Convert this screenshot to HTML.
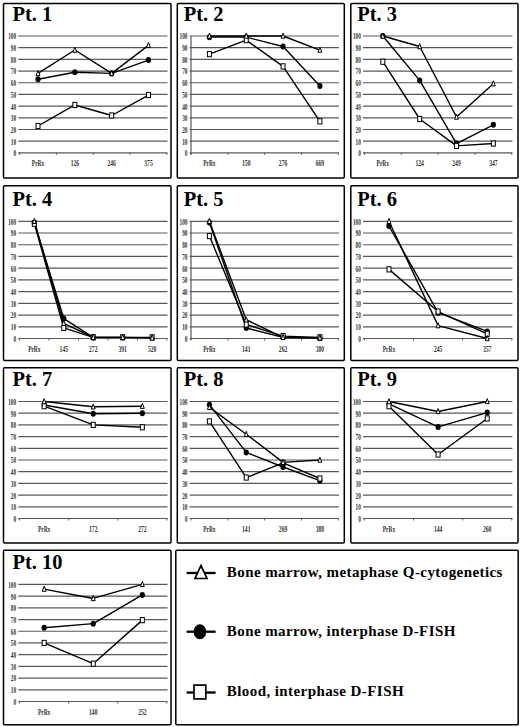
<!DOCTYPE html>
<html><head><meta charset="utf-8"><style>
html,body{margin:0;padding:0;background:#fff;}
svg{display:block;}
.t{font-family:"Liberation Serif",serif;font-weight:bold;font-size:22px;fill:#000;}
.yl{font-family:"Liberation Serif",serif;font-weight:bold;font-size:7.6px;fill:#333;text-anchor:end;}
.xl{font-family:"Liberation Serif",serif;font-weight:bold;font-size:8.2px;fill:#333;text-anchor:middle;}
.lg{font-family:"Liberation Serif",serif;font-weight:bold;font-size:15px;fill:#000;letter-spacing:0.42px;}
</style></head><body>
<svg width="520" height="727" viewBox="0 0 520 727">
<rect width="520" height="727" fill="#fff"/>
<rect x="3.5" y="3.5" width="167.50" height="174.50" rx="1" fill="none" stroke="#000" stroke-width="1.5"/>
<text transform="translate(12.40,20.8) scale(0.93,1)" class="t">Pt. 1</text>
<line x1="18.2" y1="152.90" x2="167.5" y2="152.90" stroke="#585858" stroke-width="1.2"/>
<text x="16.10" y="156.30" class="yl" textLength="2.65" lengthAdjust="spacingAndGlyphs">0</text>
<line x1="18.2" y1="141.21" x2="167.5" y2="141.21" stroke="#585858" stroke-width="1.2"/>
<text x="16.10" y="144.61" class="yl" textLength="5.30" lengthAdjust="spacingAndGlyphs">10</text>
<line x1="18.2" y1="129.52" x2="167.5" y2="129.52" stroke="#585858" stroke-width="1.2"/>
<text x="16.10" y="132.92" class="yl" textLength="5.30" lengthAdjust="spacingAndGlyphs">20</text>
<line x1="18.2" y1="117.83" x2="167.5" y2="117.83" stroke="#585858" stroke-width="1.2"/>
<text x="16.10" y="121.23" class="yl" textLength="5.30" lengthAdjust="spacingAndGlyphs">30</text>
<line x1="18.2" y1="106.14" x2="167.5" y2="106.14" stroke="#585858" stroke-width="1.2"/>
<text x="16.10" y="109.54" class="yl" textLength="5.30" lengthAdjust="spacingAndGlyphs">40</text>
<line x1="18.2" y1="94.45" x2="167.5" y2="94.45" stroke="#585858" stroke-width="1.2"/>
<text x="16.10" y="97.85" class="yl" textLength="5.30" lengthAdjust="spacingAndGlyphs">50</text>
<line x1="18.2" y1="82.76" x2="167.5" y2="82.76" stroke="#585858" stroke-width="1.2"/>
<text x="16.10" y="86.16" class="yl" textLength="5.30" lengthAdjust="spacingAndGlyphs">60</text>
<line x1="18.2" y1="71.07" x2="167.5" y2="71.07" stroke="#585858" stroke-width="1.2"/>
<text x="16.10" y="74.47" class="yl" textLength="5.30" lengthAdjust="spacingAndGlyphs">70</text>
<line x1="18.2" y1="59.38" x2="167.5" y2="59.38" stroke="#585858" stroke-width="1.2"/>
<text x="16.10" y="62.78" class="yl" textLength="5.30" lengthAdjust="spacingAndGlyphs">80</text>
<line x1="18.2" y1="47.69" x2="167.5" y2="47.69" stroke="#585858" stroke-width="1.2"/>
<text x="16.10" y="51.09" class="yl" textLength="5.30" lengthAdjust="spacingAndGlyphs">90</text>
<line x1="18.2" y1="36.00" x2="167.5" y2="36.00" stroke="#585858" stroke-width="1.2"/>
<text x="16.10" y="39.40" class="yl" textLength="7.95" lengthAdjust="spacingAndGlyphs">100</text>
<line x1="19.60" y1="152.90" x2="19.60" y2="154.90" stroke="#585858" stroke-width="1"/>
<line x1="56.42" y1="152.90" x2="56.42" y2="154.90" stroke="#585858" stroke-width="1"/>
<line x1="93.25" y1="152.90" x2="93.25" y2="154.90" stroke="#585858" stroke-width="1"/>
<line x1="130.08" y1="152.90" x2="130.08" y2="154.90" stroke="#585858" stroke-width="1"/>
<line x1="166.90" y1="152.90" x2="166.90" y2="154.90" stroke="#585858" stroke-width="1"/>
<text x="38.01" y="166.40" class="xl" textLength="12.40" lengthAdjust="spacingAndGlyphs">PrRx</text>
<text x="74.84" y="166.40" class="xl" textLength="8.40" lengthAdjust="spacingAndGlyphs">126</text>
<text x="111.66" y="166.40" class="xl" textLength="8.40" lengthAdjust="spacingAndGlyphs">246</text>
<text x="148.49" y="166.40" class="xl" textLength="8.40" lengthAdjust="spacingAndGlyphs">375</text>
<polyline points="38.01,73.41 74.84,50.03 111.66,73.41 148.49,45.35" fill="none" stroke="#000" stroke-width="1.4" stroke-linejoin="round"/>
<polyline points="38.01,79.25 74.84,72.24 111.66,73.41 148.49,60.08" fill="none" stroke="#000" stroke-width="1.4" stroke-linejoin="round"/>
<polyline points="38.01,126.01 74.84,104.97 111.66,115.49 148.49,95.03" fill="none" stroke="#000" stroke-width="1.4" stroke-linejoin="round"/>
<ellipse cx="38.01" cy="79.25" rx="2.6" ry="3.0" fill="#000"/>
<ellipse cx="74.84" cy="72.24" rx="2.6" ry="3.0" fill="#000"/>
<ellipse cx="111.66" cy="73.41" rx="2.6" ry="3.0" fill="#000"/>
<ellipse cx="148.49" cy="60.08" rx="2.6" ry="3.0" fill="#000"/>
<rect x="36.01" y="123.41" width="4.0" height="5.2" fill="#fff" stroke="#000" stroke-width="1.0"/>
<rect x="72.84" y="102.37" width="4.0" height="5.2" fill="#fff" stroke="#000" stroke-width="1.0"/>
<rect x="109.66" y="112.89" width="4.0" height="5.2" fill="#fff" stroke="#000" stroke-width="1.0"/>
<rect x="146.49" y="92.43" width="4.0" height="5.2" fill="#fff" stroke="#000" stroke-width="1.0"/>
<path d="M38.01,70.51 L39.96,75.61 L36.06,75.61 Z" fill="#fff" stroke="#000" stroke-width="1.0"/>
<path d="M74.84,47.13 L76.79,52.23 L72.89,52.23 Z" fill="#fff" stroke="#000" stroke-width="1.0"/>
<path d="M111.66,70.51 L113.61,75.61 L109.71,75.61 Z" fill="#fff" stroke="#000" stroke-width="1.0"/>
<path d="M148.49,42.45 L150.44,47.55 L146.54,47.55 Z" fill="#fff" stroke="#000" stroke-width="1.0"/>
<rect x="177.3" y="3.5" width="167.00" height="174.50" rx="1" fill="none" stroke="#000" stroke-width="1.5"/>
<text transform="translate(183.70,20.8) scale(0.93,1)" class="t">Pt. 2</text>
<line x1="189.6" y1="152.90" x2="338.9" y2="152.90" stroke="#585858" stroke-width="1.2"/>
<text x="187.50" y="156.30" class="yl" textLength="2.65" lengthAdjust="spacingAndGlyphs">0</text>
<line x1="189.6" y1="141.21" x2="338.9" y2="141.21" stroke="#585858" stroke-width="1.2"/>
<text x="187.50" y="144.61" class="yl" textLength="5.30" lengthAdjust="spacingAndGlyphs">10</text>
<line x1="189.6" y1="129.52" x2="338.9" y2="129.52" stroke="#585858" stroke-width="1.2"/>
<text x="187.50" y="132.92" class="yl" textLength="5.30" lengthAdjust="spacingAndGlyphs">20</text>
<line x1="189.6" y1="117.83" x2="338.9" y2="117.83" stroke="#585858" stroke-width="1.2"/>
<text x="187.50" y="121.23" class="yl" textLength="5.30" lengthAdjust="spacingAndGlyphs">30</text>
<line x1="189.6" y1="106.14" x2="338.9" y2="106.14" stroke="#585858" stroke-width="1.2"/>
<text x="187.50" y="109.54" class="yl" textLength="5.30" lengthAdjust="spacingAndGlyphs">40</text>
<line x1="189.6" y1="94.45" x2="338.9" y2="94.45" stroke="#585858" stroke-width="1.2"/>
<text x="187.50" y="97.85" class="yl" textLength="5.30" lengthAdjust="spacingAndGlyphs">50</text>
<line x1="189.6" y1="82.76" x2="338.9" y2="82.76" stroke="#585858" stroke-width="1.2"/>
<text x="187.50" y="86.16" class="yl" textLength="5.30" lengthAdjust="spacingAndGlyphs">60</text>
<line x1="189.6" y1="71.07" x2="338.9" y2="71.07" stroke="#585858" stroke-width="1.2"/>
<text x="187.50" y="74.47" class="yl" textLength="5.30" lengthAdjust="spacingAndGlyphs">70</text>
<line x1="189.6" y1="59.38" x2="338.9" y2="59.38" stroke="#585858" stroke-width="1.2"/>
<text x="187.50" y="62.78" class="yl" textLength="5.30" lengthAdjust="spacingAndGlyphs">80</text>
<line x1="189.6" y1="47.69" x2="338.9" y2="47.69" stroke="#585858" stroke-width="1.2"/>
<text x="187.50" y="51.09" class="yl" textLength="5.30" lengthAdjust="spacingAndGlyphs">90</text>
<line x1="189.6" y1="36.00" x2="338.9" y2="36.00" stroke="#585858" stroke-width="1.2"/>
<text x="187.50" y="39.40" class="yl" textLength="7.95" lengthAdjust="spacingAndGlyphs">100</text>
<line x1="191.00" y1="152.90" x2="191.00" y2="154.90" stroke="#585858" stroke-width="1"/>
<line x1="227.82" y1="152.90" x2="227.82" y2="154.90" stroke="#585858" stroke-width="1"/>
<line x1="264.65" y1="152.90" x2="264.65" y2="154.90" stroke="#585858" stroke-width="1"/>
<line x1="301.47" y1="152.90" x2="301.47" y2="154.90" stroke="#585858" stroke-width="1"/>
<line x1="338.30" y1="152.90" x2="338.30" y2="154.90" stroke="#585858" stroke-width="1"/>
<line x1="191.00" y1="36.00" x2="191.00" y2="154.40" stroke="#585858" stroke-width="1.2"/>
<text x="209.41" y="166.40" class="xl" textLength="12.40" lengthAdjust="spacingAndGlyphs">PrRx</text>
<text x="246.24" y="166.40" class="xl" textLength="8.40" lengthAdjust="spacingAndGlyphs">150</text>
<text x="283.06" y="166.40" class="xl" textLength="8.40" lengthAdjust="spacingAndGlyphs">276</text>
<text x="319.89" y="166.40" class="xl" textLength="8.40" lengthAdjust="spacingAndGlyphs">669</text>
<polyline points="209.41,36.00 246.24,36.00 283.06,36.00 319.89,50.03" fill="none" stroke="#000" stroke-width="1.4" stroke-linejoin="round"/>
<polyline points="209.41,37.17 246.24,37.17 283.06,46.52 319.89,85.92" fill="none" stroke="#000" stroke-width="1.4" stroke-linejoin="round"/>
<polyline points="209.41,54.12 246.24,40.09 283.06,66.39 319.89,121.34" fill="none" stroke="#000" stroke-width="1.4" stroke-linejoin="round"/>
<ellipse cx="209.41" cy="37.17" rx="2.6" ry="3.0" fill="#000"/>
<ellipse cx="246.24" cy="37.17" rx="2.6" ry="3.0" fill="#000"/>
<ellipse cx="283.06" cy="46.52" rx="2.6" ry="3.0" fill="#000"/>
<ellipse cx="319.89" cy="85.92" rx="2.6" ry="3.0" fill="#000"/>
<rect x="207.41" y="51.52" width="4.0" height="5.2" fill="#fff" stroke="#000" stroke-width="1.0"/>
<rect x="244.24" y="37.49" width="4.0" height="5.2" fill="#fff" stroke="#000" stroke-width="1.0"/>
<rect x="281.06" y="63.79" width="4.0" height="5.2" fill="#fff" stroke="#000" stroke-width="1.0"/>
<rect x="317.89" y="118.74" width="4.0" height="5.2" fill="#fff" stroke="#000" stroke-width="1.0"/>
<path d="M209.41,33.10 L211.36,38.20 L207.46,38.20 Z" fill="#fff" stroke="#000" stroke-width="1.0"/>
<path d="M246.24,33.10 L248.19,38.20 L244.29,38.20 Z" fill="#fff" stroke="#000" stroke-width="1.0"/>
<path d="M283.06,33.10 L285.01,38.20 L281.11,38.20 Z" fill="#fff" stroke="#000" stroke-width="1.0"/>
<path d="M319.89,47.13 L321.84,52.23 L317.94,52.23 Z" fill="#fff" stroke="#000" stroke-width="1.0"/>
<rect x="350.8" y="3.5" width="167.20" height="174.50" rx="1" fill="none" stroke="#000" stroke-width="1.5"/>
<text transform="translate(357.20,20.8) scale(0.93,1)" class="t">Pt. 3</text>
<line x1="363.0" y1="152.90" x2="512.4" y2="152.90" stroke="#585858" stroke-width="1.2"/>
<text x="360.90" y="156.30" class="yl" textLength="2.65" lengthAdjust="spacingAndGlyphs">0</text>
<line x1="363.0" y1="141.21" x2="512.4" y2="141.21" stroke="#585858" stroke-width="1.2"/>
<text x="360.90" y="144.61" class="yl" textLength="5.30" lengthAdjust="spacingAndGlyphs">10</text>
<line x1="363.0" y1="129.52" x2="512.4" y2="129.52" stroke="#585858" stroke-width="1.2"/>
<text x="360.90" y="132.92" class="yl" textLength="5.30" lengthAdjust="spacingAndGlyphs">20</text>
<line x1="363.0" y1="117.83" x2="512.4" y2="117.83" stroke="#585858" stroke-width="1.2"/>
<text x="360.90" y="121.23" class="yl" textLength="5.30" lengthAdjust="spacingAndGlyphs">30</text>
<line x1="363.0" y1="106.14" x2="512.4" y2="106.14" stroke="#585858" stroke-width="1.2"/>
<text x="360.90" y="109.54" class="yl" textLength="5.30" lengthAdjust="spacingAndGlyphs">40</text>
<line x1="363.0" y1="94.45" x2="512.4" y2="94.45" stroke="#585858" stroke-width="1.2"/>
<text x="360.90" y="97.85" class="yl" textLength="5.30" lengthAdjust="spacingAndGlyphs">50</text>
<line x1="363.0" y1="82.76" x2="512.4" y2="82.76" stroke="#585858" stroke-width="1.2"/>
<text x="360.90" y="86.16" class="yl" textLength="5.30" lengthAdjust="spacingAndGlyphs">60</text>
<line x1="363.0" y1="71.07" x2="512.4" y2="71.07" stroke="#585858" stroke-width="1.2"/>
<text x="360.90" y="74.47" class="yl" textLength="5.30" lengthAdjust="spacingAndGlyphs">70</text>
<line x1="363.0" y1="59.38" x2="512.4" y2="59.38" stroke="#585858" stroke-width="1.2"/>
<text x="360.90" y="62.78" class="yl" textLength="5.30" lengthAdjust="spacingAndGlyphs">80</text>
<line x1="363.0" y1="47.69" x2="512.4" y2="47.69" stroke="#585858" stroke-width="1.2"/>
<text x="360.90" y="51.09" class="yl" textLength="5.30" lengthAdjust="spacingAndGlyphs">90</text>
<line x1="363.0" y1="36.00" x2="512.4" y2="36.00" stroke="#585858" stroke-width="1.2"/>
<text x="360.90" y="39.40" class="yl" textLength="7.95" lengthAdjust="spacingAndGlyphs">100</text>
<line x1="364.40" y1="152.90" x2="364.40" y2="154.90" stroke="#585858" stroke-width="1"/>
<line x1="401.25" y1="152.90" x2="401.25" y2="154.90" stroke="#585858" stroke-width="1"/>
<line x1="438.10" y1="152.90" x2="438.10" y2="154.90" stroke="#585858" stroke-width="1"/>
<line x1="474.95" y1="152.90" x2="474.95" y2="154.90" stroke="#585858" stroke-width="1"/>
<line x1="511.80" y1="152.90" x2="511.80" y2="154.90" stroke="#585858" stroke-width="1"/>
<text x="382.82" y="166.40" class="xl" textLength="12.40" lengthAdjust="spacingAndGlyphs">PrRx</text>
<text x="419.67" y="166.40" class="xl" textLength="8.40" lengthAdjust="spacingAndGlyphs">124</text>
<text x="456.52" y="166.40" class="xl" textLength="8.40" lengthAdjust="spacingAndGlyphs">249</text>
<text x="493.37" y="166.40" class="xl" textLength="8.40" lengthAdjust="spacingAndGlyphs">347</text>
<polyline points="382.82,36.00 419.67,46.52 456.52,117.01 493.37,83.70" fill="none" stroke="#000" stroke-width="1.4" stroke-linejoin="round"/>
<polyline points="382.82,36.00 419.67,80.42 456.52,143.55 493.37,124.84" fill="none" stroke="#000" stroke-width="1.4" stroke-linejoin="round"/>
<polyline points="382.82,61.72 419.67,119.00 456.52,145.89 493.37,143.55" fill="none" stroke="#000" stroke-width="1.4" stroke-linejoin="round"/>
<ellipse cx="382.82" cy="36.00" rx="2.6" ry="3.0" fill="#000"/>
<ellipse cx="419.67" cy="80.42" rx="2.6" ry="3.0" fill="#000"/>
<ellipse cx="456.52" cy="143.55" rx="2.6" ry="3.0" fill="#000"/>
<ellipse cx="493.37" cy="124.84" rx="2.6" ry="3.0" fill="#000"/>
<rect x="380.82" y="59.12" width="4.0" height="5.2" fill="#fff" stroke="#000" stroke-width="1.0"/>
<rect x="417.67" y="116.40" width="4.0" height="5.2" fill="#fff" stroke="#000" stroke-width="1.0"/>
<rect x="454.52" y="143.29" width="4.0" height="5.2" fill="#fff" stroke="#000" stroke-width="1.0"/>
<rect x="491.37" y="140.95" width="4.0" height="5.2" fill="#fff" stroke="#000" stroke-width="1.0"/>
<path d="M382.82,33.10 L384.77,38.20 L380.88,38.20 Z" fill="#fff" stroke="#000" stroke-width="1.0"/>
<path d="M419.67,43.62 L421.62,48.72 L417.72,48.72 Z" fill="#fff" stroke="#000" stroke-width="1.0"/>
<path d="M456.52,114.11 L458.47,119.21 L454.57,119.21 Z" fill="#fff" stroke="#000" stroke-width="1.0"/>
<path d="M493.37,80.80 L495.32,85.90 L491.42,85.90 Z" fill="#fff" stroke="#000" stroke-width="1.0"/>
<rect x="3.5" y="185.7" width="167.50" height="174.80" rx="1" fill="none" stroke="#000" stroke-width="1.5"/>
<text transform="translate(12.40,206.4) scale(0.93,1)" class="t">Pt. 4</text>
<line x1="18.2" y1="338.50" x2="167.5" y2="338.50" stroke="#585858" stroke-width="1.2"/>
<text x="16.10" y="341.90" class="yl" textLength="2.65" lengthAdjust="spacingAndGlyphs">0</text>
<line x1="18.2" y1="326.78" x2="167.5" y2="326.78" stroke="#585858" stroke-width="1.2"/>
<text x="16.10" y="330.18" class="yl" textLength="5.30" lengthAdjust="spacingAndGlyphs">10</text>
<line x1="18.2" y1="315.06" x2="167.5" y2="315.06" stroke="#585858" stroke-width="1.2"/>
<text x="16.10" y="318.46" class="yl" textLength="5.30" lengthAdjust="spacingAndGlyphs">20</text>
<line x1="18.2" y1="303.34" x2="167.5" y2="303.34" stroke="#585858" stroke-width="1.2"/>
<text x="16.10" y="306.74" class="yl" textLength="5.30" lengthAdjust="spacingAndGlyphs">30</text>
<line x1="18.2" y1="291.62" x2="167.5" y2="291.62" stroke="#585858" stroke-width="1.2"/>
<text x="16.10" y="295.02" class="yl" textLength="5.30" lengthAdjust="spacingAndGlyphs">40</text>
<line x1="18.2" y1="279.90" x2="167.5" y2="279.90" stroke="#585858" stroke-width="1.2"/>
<text x="16.10" y="283.30" class="yl" textLength="5.30" lengthAdjust="spacingAndGlyphs">50</text>
<line x1="18.2" y1="268.18" x2="167.5" y2="268.18" stroke="#585858" stroke-width="1.2"/>
<text x="16.10" y="271.58" class="yl" textLength="5.30" lengthAdjust="spacingAndGlyphs">60</text>
<line x1="18.2" y1="256.46" x2="167.5" y2="256.46" stroke="#585858" stroke-width="1.2"/>
<text x="16.10" y="259.86" class="yl" textLength="5.30" lengthAdjust="spacingAndGlyphs">70</text>
<line x1="18.2" y1="244.74" x2="167.5" y2="244.74" stroke="#585858" stroke-width="1.2"/>
<text x="16.10" y="248.14" class="yl" textLength="5.30" lengthAdjust="spacingAndGlyphs">80</text>
<line x1="18.2" y1="233.02" x2="167.5" y2="233.02" stroke="#585858" stroke-width="1.2"/>
<text x="16.10" y="236.42" class="yl" textLength="5.30" lengthAdjust="spacingAndGlyphs">90</text>
<line x1="18.2" y1="221.30" x2="167.5" y2="221.30" stroke="#585858" stroke-width="1.2"/>
<text x="16.10" y="224.70" class="yl" textLength="7.95" lengthAdjust="spacingAndGlyphs">100</text>
<line x1="19.60" y1="338.50" x2="19.60" y2="340.50" stroke="#585858" stroke-width="1"/>
<line x1="49.06" y1="338.50" x2="49.06" y2="340.50" stroke="#585858" stroke-width="1"/>
<line x1="78.52" y1="338.50" x2="78.52" y2="340.50" stroke="#585858" stroke-width="1"/>
<line x1="107.98" y1="338.50" x2="107.98" y2="340.50" stroke="#585858" stroke-width="1"/>
<line x1="137.44" y1="338.50" x2="137.44" y2="340.50" stroke="#585858" stroke-width="1"/>
<line x1="166.90" y1="338.50" x2="166.90" y2="340.50" stroke="#585858" stroke-width="1"/>
<text x="34.33" y="352.00" class="xl" textLength="12.40" lengthAdjust="spacingAndGlyphs">PrRx</text>
<text x="63.79" y="352.00" class="xl" textLength="8.40" lengthAdjust="spacingAndGlyphs">145</text>
<text x="93.25" y="352.00" class="xl" textLength="8.40" lengthAdjust="spacingAndGlyphs">272</text>
<text x="122.71" y="352.00" class="xl" textLength="8.40" lengthAdjust="spacingAndGlyphs">391</text>
<text x="152.17" y="352.00" class="xl" textLength="8.40" lengthAdjust="spacingAndGlyphs">520</text>
<polyline points="34.33,221.30 63.79,323.26 93.25,337.33 122.71,337.33 152.17,337.91" fill="none" stroke="#000" stroke-width="1.4" stroke-linejoin="round"/>
<polyline points="34.33,222.47 63.79,318.58 93.25,337.33 122.71,337.33" fill="none" stroke="#000" stroke-width="1.4" stroke-linejoin="round"/>
<polyline points="34.33,223.64 63.79,327.95 93.25,337.33 122.71,337.33 152.17,337.33" fill="none" stroke="#000" stroke-width="1.4" stroke-linejoin="round"/>
<ellipse cx="34.33" cy="222.47" rx="2.6" ry="3.0" fill="#000"/>
<ellipse cx="63.79" cy="318.58" rx="2.6" ry="3.0" fill="#000"/>
<ellipse cx="93.25" cy="337.33" rx="2.6" ry="3.0" fill="#000"/>
<ellipse cx="122.71" cy="337.33" rx="2.6" ry="3.0" fill="#000"/>
<rect x="32.33" y="221.04" width="4.0" height="5.2" fill="#fff" stroke="#000" stroke-width="1.0"/>
<rect x="61.79" y="325.35" width="4.0" height="5.2" fill="#fff" stroke="#000" stroke-width="1.0"/>
<rect x="91.25" y="334.73" width="4.0" height="5.2" fill="#fff" stroke="#000" stroke-width="1.0"/>
<rect x="120.71" y="334.73" width="4.0" height="5.2" fill="#fff" stroke="#000" stroke-width="1.0"/>
<rect x="150.17" y="334.73" width="4.0" height="5.2" fill="#fff" stroke="#000" stroke-width="1.0"/>
<path d="M34.33,218.40 L36.28,223.50 L32.38,223.50 Z" fill="#fff" stroke="#000" stroke-width="1.0"/>
<path d="M63.79,320.36 L65.74,325.46 L61.84,325.46 Z" fill="#fff" stroke="#000" stroke-width="1.0"/>
<path d="M93.25,334.43 L95.20,339.53 L91.30,339.53 Z" fill="#fff" stroke="#000" stroke-width="1.0"/>
<path d="M122.71,334.43 L124.66,339.53 L120.76,339.53 Z" fill="#fff" stroke="#000" stroke-width="1.0"/>
<path d="M152.17,335.01 L154.12,340.11 L150.22,340.11 Z" fill="#fff" stroke="#000" stroke-width="1.0"/>
<rect x="177.3" y="185.7" width="167.00" height="174.80" rx="1" fill="none" stroke="#000" stroke-width="1.5"/>
<text transform="translate(183.70,206.4) scale(0.93,1)" class="t">Pt. 5</text>
<line x1="189.6" y1="338.50" x2="338.9" y2="338.50" stroke="#585858" stroke-width="1.2"/>
<text x="187.50" y="341.90" class="yl" textLength="2.65" lengthAdjust="spacingAndGlyphs">0</text>
<line x1="189.6" y1="326.78" x2="338.9" y2="326.78" stroke="#585858" stroke-width="1.2"/>
<text x="187.50" y="330.18" class="yl" textLength="5.30" lengthAdjust="spacingAndGlyphs">10</text>
<line x1="189.6" y1="315.06" x2="338.9" y2="315.06" stroke="#585858" stroke-width="1.2"/>
<text x="187.50" y="318.46" class="yl" textLength="5.30" lengthAdjust="spacingAndGlyphs">20</text>
<line x1="189.6" y1="303.34" x2="338.9" y2="303.34" stroke="#585858" stroke-width="1.2"/>
<text x="187.50" y="306.74" class="yl" textLength="5.30" lengthAdjust="spacingAndGlyphs">30</text>
<line x1="189.6" y1="291.62" x2="338.9" y2="291.62" stroke="#585858" stroke-width="1.2"/>
<text x="187.50" y="295.02" class="yl" textLength="5.30" lengthAdjust="spacingAndGlyphs">40</text>
<line x1="189.6" y1="279.90" x2="338.9" y2="279.90" stroke="#585858" stroke-width="1.2"/>
<text x="187.50" y="283.30" class="yl" textLength="5.30" lengthAdjust="spacingAndGlyphs">50</text>
<line x1="189.6" y1="268.18" x2="338.9" y2="268.18" stroke="#585858" stroke-width="1.2"/>
<text x="187.50" y="271.58" class="yl" textLength="5.30" lengthAdjust="spacingAndGlyphs">60</text>
<line x1="189.6" y1="256.46" x2="338.9" y2="256.46" stroke="#585858" stroke-width="1.2"/>
<text x="187.50" y="259.86" class="yl" textLength="5.30" lengthAdjust="spacingAndGlyphs">70</text>
<line x1="189.6" y1="244.74" x2="338.9" y2="244.74" stroke="#585858" stroke-width="1.2"/>
<text x="187.50" y="248.14" class="yl" textLength="5.30" lengthAdjust="spacingAndGlyphs">80</text>
<line x1="189.6" y1="233.02" x2="338.9" y2="233.02" stroke="#585858" stroke-width="1.2"/>
<text x="187.50" y="236.42" class="yl" textLength="5.30" lengthAdjust="spacingAndGlyphs">90</text>
<line x1="189.6" y1="221.30" x2="338.9" y2="221.30" stroke="#585858" stroke-width="1.2"/>
<text x="187.50" y="224.70" class="yl" textLength="7.95" lengthAdjust="spacingAndGlyphs">100</text>
<line x1="191.00" y1="338.50" x2="191.00" y2="340.50" stroke="#585858" stroke-width="1"/>
<line x1="227.82" y1="338.50" x2="227.82" y2="340.50" stroke="#585858" stroke-width="1"/>
<line x1="264.65" y1="338.50" x2="264.65" y2="340.50" stroke="#585858" stroke-width="1"/>
<line x1="301.47" y1="338.50" x2="301.47" y2="340.50" stroke="#585858" stroke-width="1"/>
<line x1="338.30" y1="338.50" x2="338.30" y2="340.50" stroke="#585858" stroke-width="1"/>
<line x1="191.00" y1="221.30" x2="191.00" y2="340.00" stroke="#585858" stroke-width="1.2"/>
<text x="209.41" y="352.00" class="xl" textLength="12.40" lengthAdjust="spacingAndGlyphs">PrRx</text>
<text x="246.24" y="352.00" class="xl" textLength="8.40" lengthAdjust="spacingAndGlyphs">141</text>
<text x="283.06" y="352.00" class="xl" textLength="8.40" lengthAdjust="spacingAndGlyphs">262</text>
<text x="319.89" y="352.00" class="xl" textLength="8.40" lengthAdjust="spacingAndGlyphs">380</text>
<polyline points="209.41,221.30 246.24,319.75 283.06,337.33 319.89,337.91" fill="none" stroke="#000" stroke-width="1.4" stroke-linejoin="round"/>
<polyline points="209.41,222.47 246.24,327.95 283.06,337.33 319.89,337.91" fill="none" stroke="#000" stroke-width="1.4" stroke-linejoin="round"/>
<polyline points="209.41,236.07 246.24,324.44 283.06,336.16 319.89,337.33" fill="none" stroke="#000" stroke-width="1.4" stroke-linejoin="round"/>
<ellipse cx="209.41" cy="222.47" rx="2.6" ry="3.0" fill="#000"/>
<ellipse cx="246.24" cy="327.95" rx="2.6" ry="3.0" fill="#000"/>
<ellipse cx="283.06" cy="337.33" rx="2.6" ry="3.0" fill="#000"/>
<ellipse cx="319.89" cy="337.91" rx="2.6" ry="3.0" fill="#000"/>
<rect x="207.41" y="233.47" width="4.0" height="5.2" fill="#fff" stroke="#000" stroke-width="1.0"/>
<rect x="244.24" y="321.84" width="4.0" height="5.2" fill="#fff" stroke="#000" stroke-width="1.0"/>
<rect x="281.06" y="333.56" width="4.0" height="5.2" fill="#fff" stroke="#000" stroke-width="1.0"/>
<rect x="317.89" y="334.73" width="4.0" height="5.2" fill="#fff" stroke="#000" stroke-width="1.0"/>
<path d="M209.41,218.40 L211.36,223.50 L207.46,223.50 Z" fill="#fff" stroke="#000" stroke-width="1.0"/>
<path d="M246.24,316.85 L248.19,321.95 L244.29,321.95 Z" fill="#fff" stroke="#000" stroke-width="1.0"/>
<path d="M283.06,334.43 L285.01,339.53 L281.11,339.53 Z" fill="#fff" stroke="#000" stroke-width="1.0"/>
<path d="M319.89,335.01 L321.84,340.11 L317.94,340.11 Z" fill="#fff" stroke="#000" stroke-width="1.0"/>
<rect x="350.8" y="185.7" width="167.20" height="174.80" rx="1" fill="none" stroke="#000" stroke-width="1.5"/>
<text transform="translate(357.20,206.4) scale(0.93,1)" class="t">Pt. 6</text>
<line x1="363.0" y1="338.50" x2="512.4" y2="338.50" stroke="#585858" stroke-width="1.2"/>
<text x="360.90" y="341.90" class="yl" textLength="2.65" lengthAdjust="spacingAndGlyphs">0</text>
<line x1="363.0" y1="326.78" x2="512.4" y2="326.78" stroke="#585858" stroke-width="1.2"/>
<text x="360.90" y="330.18" class="yl" textLength="5.30" lengthAdjust="spacingAndGlyphs">10</text>
<line x1="363.0" y1="315.06" x2="512.4" y2="315.06" stroke="#585858" stroke-width="1.2"/>
<text x="360.90" y="318.46" class="yl" textLength="5.30" lengthAdjust="spacingAndGlyphs">20</text>
<line x1="363.0" y1="303.34" x2="512.4" y2="303.34" stroke="#585858" stroke-width="1.2"/>
<text x="360.90" y="306.74" class="yl" textLength="5.30" lengthAdjust="spacingAndGlyphs">30</text>
<line x1="363.0" y1="291.62" x2="512.4" y2="291.62" stroke="#585858" stroke-width="1.2"/>
<text x="360.90" y="295.02" class="yl" textLength="5.30" lengthAdjust="spacingAndGlyphs">40</text>
<line x1="363.0" y1="279.90" x2="512.4" y2="279.90" stroke="#585858" stroke-width="1.2"/>
<text x="360.90" y="283.30" class="yl" textLength="5.30" lengthAdjust="spacingAndGlyphs">50</text>
<line x1="363.0" y1="268.18" x2="512.4" y2="268.18" stroke="#585858" stroke-width="1.2"/>
<text x="360.90" y="271.58" class="yl" textLength="5.30" lengthAdjust="spacingAndGlyphs">60</text>
<line x1="363.0" y1="256.46" x2="512.4" y2="256.46" stroke="#585858" stroke-width="1.2"/>
<text x="360.90" y="259.86" class="yl" textLength="5.30" lengthAdjust="spacingAndGlyphs">70</text>
<line x1="363.0" y1="244.74" x2="512.4" y2="244.74" stroke="#585858" stroke-width="1.2"/>
<text x="360.90" y="248.14" class="yl" textLength="5.30" lengthAdjust="spacingAndGlyphs">80</text>
<line x1="363.0" y1="233.02" x2="512.4" y2="233.02" stroke="#585858" stroke-width="1.2"/>
<text x="360.90" y="236.42" class="yl" textLength="5.30" lengthAdjust="spacingAndGlyphs">90</text>
<line x1="363.0" y1="221.30" x2="512.4" y2="221.30" stroke="#585858" stroke-width="1.2"/>
<text x="360.90" y="224.70" class="yl" textLength="7.95" lengthAdjust="spacingAndGlyphs">100</text>
<line x1="364.40" y1="338.50" x2="364.40" y2="340.50" stroke="#585858" stroke-width="1"/>
<line x1="413.53" y1="338.50" x2="413.53" y2="340.50" stroke="#585858" stroke-width="1"/>
<line x1="462.67" y1="338.50" x2="462.67" y2="340.50" stroke="#585858" stroke-width="1"/>
<line x1="511.80" y1="338.50" x2="511.80" y2="340.50" stroke="#585858" stroke-width="1"/>
<text x="388.97" y="352.00" class="xl" textLength="12.40" lengthAdjust="spacingAndGlyphs">PrRx</text>
<text x="438.10" y="352.00" class="xl" textLength="8.40" lengthAdjust="spacingAndGlyphs">245</text>
<text x="487.23" y="352.00" class="xl" textLength="8.40" lengthAdjust="spacingAndGlyphs">357</text>
<polyline points="388.97,221.30 438.10,325.61 487.23,338.50" fill="none" stroke="#000" stroke-width="1.4" stroke-linejoin="round"/>
<polyline points="388.97,225.99 438.10,312.72 487.23,331.47" fill="none" stroke="#000" stroke-width="1.4" stroke-linejoin="round"/>
<polyline points="388.97,269.35 438.10,311.54 487.23,333.81" fill="none" stroke="#000" stroke-width="1.4" stroke-linejoin="round"/>
<ellipse cx="388.97" cy="225.99" rx="2.6" ry="3.0" fill="#000"/>
<ellipse cx="438.10" cy="312.72" rx="2.6" ry="3.0" fill="#000"/>
<ellipse cx="487.23" cy="331.47" rx="2.6" ry="3.0" fill="#000"/>
<rect x="386.97" y="266.75" width="4.0" height="5.2" fill="#fff" stroke="#000" stroke-width="1.0"/>
<rect x="436.10" y="308.94" width="4.0" height="5.2" fill="#fff" stroke="#000" stroke-width="1.0"/>
<rect x="485.23" y="331.21" width="4.0" height="5.2" fill="#fff" stroke="#000" stroke-width="1.0"/>
<path d="M388.97,218.40 L390.92,223.50 L387.02,223.50 Z" fill="#fff" stroke="#000" stroke-width="1.0"/>
<path d="M438.10,322.71 L440.05,327.81 L436.15,327.81 Z" fill="#fff" stroke="#000" stroke-width="1.0"/>
<path d="M487.23,335.60 L489.18,340.70 L485.28,340.70 Z" fill="#fff" stroke="#000" stroke-width="1.0"/>
<rect x="3.5" y="367.7" width="167.50" height="175.30" rx="1" fill="none" stroke="#000" stroke-width="1.5"/>
<text transform="translate(12.40,386.1) scale(0.93,1)" class="t">Pt. 7</text>
<line x1="18.2" y1="518.50" x2="167.5" y2="518.50" stroke="#585858" stroke-width="1.2"/>
<text x="16.10" y="521.90" class="yl" textLength="2.65" lengthAdjust="spacingAndGlyphs">0</text>
<line x1="18.2" y1="506.80" x2="167.5" y2="506.80" stroke="#585858" stroke-width="1.2"/>
<text x="16.10" y="510.20" class="yl" textLength="5.30" lengthAdjust="spacingAndGlyphs">10</text>
<line x1="18.2" y1="495.10" x2="167.5" y2="495.10" stroke="#585858" stroke-width="1.2"/>
<text x="16.10" y="498.50" class="yl" textLength="5.30" lengthAdjust="spacingAndGlyphs">20</text>
<line x1="18.2" y1="483.40" x2="167.5" y2="483.40" stroke="#585858" stroke-width="1.2"/>
<text x="16.10" y="486.80" class="yl" textLength="5.30" lengthAdjust="spacingAndGlyphs">30</text>
<line x1="18.2" y1="471.70" x2="167.5" y2="471.70" stroke="#585858" stroke-width="1.2"/>
<text x="16.10" y="475.10" class="yl" textLength="5.30" lengthAdjust="spacingAndGlyphs">40</text>
<line x1="18.2" y1="460.00" x2="167.5" y2="460.00" stroke="#585858" stroke-width="1.2"/>
<text x="16.10" y="463.40" class="yl" textLength="5.30" lengthAdjust="spacingAndGlyphs">50</text>
<line x1="18.2" y1="448.30" x2="167.5" y2="448.30" stroke="#585858" stroke-width="1.2"/>
<text x="16.10" y="451.70" class="yl" textLength="5.30" lengthAdjust="spacingAndGlyphs">60</text>
<line x1="18.2" y1="436.60" x2="167.5" y2="436.60" stroke="#585858" stroke-width="1.2"/>
<text x="16.10" y="440.00" class="yl" textLength="5.30" lengthAdjust="spacingAndGlyphs">70</text>
<line x1="18.2" y1="424.90" x2="167.5" y2="424.90" stroke="#585858" stroke-width="1.2"/>
<text x="16.10" y="428.30" class="yl" textLength="5.30" lengthAdjust="spacingAndGlyphs">80</text>
<line x1="18.2" y1="413.20" x2="167.5" y2="413.20" stroke="#585858" stroke-width="1.2"/>
<text x="16.10" y="416.60" class="yl" textLength="5.30" lengthAdjust="spacingAndGlyphs">90</text>
<line x1="18.2" y1="401.50" x2="167.5" y2="401.50" stroke="#585858" stroke-width="1.2"/>
<text x="16.10" y="404.90" class="yl" textLength="7.95" lengthAdjust="spacingAndGlyphs">100</text>
<line x1="19.60" y1="518.50" x2="19.60" y2="520.50" stroke="#585858" stroke-width="1"/>
<line x1="68.70" y1="518.50" x2="68.70" y2="520.50" stroke="#585858" stroke-width="1"/>
<line x1="117.80" y1="518.50" x2="117.80" y2="520.50" stroke="#585858" stroke-width="1"/>
<line x1="166.90" y1="518.50" x2="166.90" y2="520.50" stroke="#585858" stroke-width="1"/>
<text x="44.15" y="532.00" class="xl" textLength="12.40" lengthAdjust="spacingAndGlyphs">PrRx</text>
<text x="93.25" y="532.00" class="xl" textLength="8.40" lengthAdjust="spacingAndGlyphs">172</text>
<text x="142.35" y="532.00" class="xl" textLength="8.40" lengthAdjust="spacingAndGlyphs">272</text>
<polyline points="44.15,401.50 93.25,406.76 142.35,406.18" fill="none" stroke="#000" stroke-width="1.4" stroke-linejoin="round"/>
<polyline points="44.15,405.01 93.25,413.79 142.35,413.20" fill="none" stroke="#000" stroke-width="1.4" stroke-linejoin="round"/>
<polyline points="44.15,406.18 93.25,424.90 142.35,427.24" fill="none" stroke="#000" stroke-width="1.4" stroke-linejoin="round"/>
<ellipse cx="44.15" cy="405.01" rx="2.6" ry="3.0" fill="#000"/>
<ellipse cx="93.25" cy="413.79" rx="2.6" ry="3.0" fill="#000"/>
<ellipse cx="142.35" cy="413.20" rx="2.6" ry="3.0" fill="#000"/>
<rect x="42.15" y="403.58" width="4.0" height="5.2" fill="#fff" stroke="#000" stroke-width="1.0"/>
<rect x="91.25" y="422.30" width="4.0" height="5.2" fill="#fff" stroke="#000" stroke-width="1.0"/>
<rect x="140.35" y="424.64" width="4.0" height="5.2" fill="#fff" stroke="#000" stroke-width="1.0"/>
<path d="M44.15,398.60 L46.10,403.70 L42.20,403.70 Z" fill="#fff" stroke="#000" stroke-width="1.0"/>
<path d="M93.25,403.87 L95.20,408.96 L91.30,408.96 Z" fill="#fff" stroke="#000" stroke-width="1.0"/>
<path d="M142.35,403.28 L144.30,408.38 L140.40,408.38 Z" fill="#fff" stroke="#000" stroke-width="1.0"/>
<rect x="177.3" y="367.7" width="167.00" height="175.30" rx="1" fill="none" stroke="#000" stroke-width="1.5"/>
<text transform="translate(183.70,386.1) scale(0.93,1)" class="t">Pt. 8</text>
<line x1="189.6" y1="518.50" x2="338.9" y2="518.50" stroke="#585858" stroke-width="1.2"/>
<text x="187.50" y="521.90" class="yl" textLength="2.65" lengthAdjust="spacingAndGlyphs">0</text>
<line x1="189.6" y1="506.80" x2="338.9" y2="506.80" stroke="#585858" stroke-width="1.2"/>
<text x="187.50" y="510.20" class="yl" textLength="5.30" lengthAdjust="spacingAndGlyphs">10</text>
<line x1="189.6" y1="495.10" x2="338.9" y2="495.10" stroke="#585858" stroke-width="1.2"/>
<text x="187.50" y="498.50" class="yl" textLength="5.30" lengthAdjust="spacingAndGlyphs">20</text>
<line x1="189.6" y1="483.40" x2="338.9" y2="483.40" stroke="#585858" stroke-width="1.2"/>
<text x="187.50" y="486.80" class="yl" textLength="5.30" lengthAdjust="spacingAndGlyphs">30</text>
<line x1="189.6" y1="471.70" x2="338.9" y2="471.70" stroke="#585858" stroke-width="1.2"/>
<text x="187.50" y="475.10" class="yl" textLength="5.30" lengthAdjust="spacingAndGlyphs">40</text>
<line x1="189.6" y1="460.00" x2="338.9" y2="460.00" stroke="#585858" stroke-width="1.2"/>
<text x="187.50" y="463.40" class="yl" textLength="5.30" lengthAdjust="spacingAndGlyphs">50</text>
<line x1="189.6" y1="448.30" x2="338.9" y2="448.30" stroke="#585858" stroke-width="1.2"/>
<text x="187.50" y="451.70" class="yl" textLength="5.30" lengthAdjust="spacingAndGlyphs">60</text>
<line x1="189.6" y1="436.60" x2="338.9" y2="436.60" stroke="#585858" stroke-width="1.2"/>
<text x="187.50" y="440.00" class="yl" textLength="5.30" lengthAdjust="spacingAndGlyphs">70</text>
<line x1="189.6" y1="424.90" x2="338.9" y2="424.90" stroke="#585858" stroke-width="1.2"/>
<text x="187.50" y="428.30" class="yl" textLength="5.30" lengthAdjust="spacingAndGlyphs">80</text>
<line x1="189.6" y1="413.20" x2="338.9" y2="413.20" stroke="#585858" stroke-width="1.2"/>
<text x="187.50" y="416.60" class="yl" textLength="5.30" lengthAdjust="spacingAndGlyphs">90</text>
<line x1="189.6" y1="401.50" x2="338.9" y2="401.50" stroke="#585858" stroke-width="1.2"/>
<text x="187.50" y="404.90" class="yl" textLength="7.95" lengthAdjust="spacingAndGlyphs">100</text>
<line x1="191.00" y1="518.50" x2="191.00" y2="520.50" stroke="#585858" stroke-width="1"/>
<line x1="227.82" y1="518.50" x2="227.82" y2="520.50" stroke="#585858" stroke-width="1"/>
<line x1="264.65" y1="518.50" x2="264.65" y2="520.50" stroke="#585858" stroke-width="1"/>
<line x1="301.47" y1="518.50" x2="301.47" y2="520.50" stroke="#585858" stroke-width="1"/>
<line x1="338.30" y1="518.50" x2="338.30" y2="520.50" stroke="#585858" stroke-width="1"/>
<text x="209.41" y="532.00" class="xl" textLength="12.40" lengthAdjust="spacingAndGlyphs">PrRx</text>
<text x="246.24" y="532.00" class="xl" textLength="8.40" lengthAdjust="spacingAndGlyphs">141</text>
<text x="283.06" y="532.00" class="xl" textLength="8.40" lengthAdjust="spacingAndGlyphs">269</text>
<text x="319.89" y="532.00" class="xl" textLength="8.40" lengthAdjust="spacingAndGlyphs">388</text>
<polyline points="209.41,407.35 246.24,434.26 283.06,462.34 319.89,460.00" fill="none" stroke="#000" stroke-width="1.4" stroke-linejoin="round"/>
<polyline points="209.41,404.66 246.24,452.39 283.06,467.02 319.89,480.71" fill="none" stroke="#000" stroke-width="1.4" stroke-linejoin="round"/>
<polyline points="209.41,421.39 246.24,477.55 283.06,462.93 319.89,478.49" fill="none" stroke="#000" stroke-width="1.4" stroke-linejoin="round"/>
<ellipse cx="209.41" cy="404.66" rx="2.6" ry="3.0" fill="#000"/>
<ellipse cx="246.24" cy="452.39" rx="2.6" ry="3.0" fill="#000"/>
<ellipse cx="283.06" cy="467.02" rx="2.6" ry="3.0" fill="#000"/>
<ellipse cx="319.89" cy="480.71" rx="2.6" ry="3.0" fill="#000"/>
<rect x="207.41" y="418.79" width="4.0" height="5.2" fill="#fff" stroke="#000" stroke-width="1.0"/>
<rect x="244.24" y="474.95" width="4.0" height="5.2" fill="#fff" stroke="#000" stroke-width="1.0"/>
<rect x="281.06" y="460.32" width="4.0" height="5.2" fill="#fff" stroke="#000" stroke-width="1.0"/>
<rect x="317.89" y="475.89" width="4.0" height="5.2" fill="#fff" stroke="#000" stroke-width="1.0"/>
<path d="M209.41,404.45 L211.36,409.55 L207.46,409.55 Z" fill="#fff" stroke="#000" stroke-width="1.0"/>
<path d="M246.24,431.36 L248.19,436.46 L244.29,436.46 Z" fill="#fff" stroke="#000" stroke-width="1.0"/>
<path d="M283.06,459.44 L285.01,464.54 L281.11,464.54 Z" fill="#fff" stroke="#000" stroke-width="1.0"/>
<path d="M319.89,457.10 L321.84,462.20 L317.94,462.20 Z" fill="#fff" stroke="#000" stroke-width="1.0"/>
<rect x="350.8" y="367.7" width="167.20" height="175.30" rx="1" fill="none" stroke="#000" stroke-width="1.5"/>
<text transform="translate(357.20,386.1) scale(0.93,1)" class="t">Pt. 9</text>
<line x1="363.0" y1="518.50" x2="512.4" y2="518.50" stroke="#585858" stroke-width="1.2"/>
<text x="360.90" y="521.90" class="yl" textLength="2.65" lengthAdjust="spacingAndGlyphs">0</text>
<line x1="363.0" y1="506.80" x2="512.4" y2="506.80" stroke="#585858" stroke-width="1.2"/>
<text x="360.90" y="510.20" class="yl" textLength="5.30" lengthAdjust="spacingAndGlyphs">10</text>
<line x1="363.0" y1="495.10" x2="512.4" y2="495.10" stroke="#585858" stroke-width="1.2"/>
<text x="360.90" y="498.50" class="yl" textLength="5.30" lengthAdjust="spacingAndGlyphs">20</text>
<line x1="363.0" y1="483.40" x2="512.4" y2="483.40" stroke="#585858" stroke-width="1.2"/>
<text x="360.90" y="486.80" class="yl" textLength="5.30" lengthAdjust="spacingAndGlyphs">30</text>
<line x1="363.0" y1="471.70" x2="512.4" y2="471.70" stroke="#585858" stroke-width="1.2"/>
<text x="360.90" y="475.10" class="yl" textLength="5.30" lengthAdjust="spacingAndGlyphs">40</text>
<line x1="363.0" y1="460.00" x2="512.4" y2="460.00" stroke="#585858" stroke-width="1.2"/>
<text x="360.90" y="463.40" class="yl" textLength="5.30" lengthAdjust="spacingAndGlyphs">50</text>
<line x1="363.0" y1="448.30" x2="512.4" y2="448.30" stroke="#585858" stroke-width="1.2"/>
<text x="360.90" y="451.70" class="yl" textLength="5.30" lengthAdjust="spacingAndGlyphs">60</text>
<line x1="363.0" y1="436.60" x2="512.4" y2="436.60" stroke="#585858" stroke-width="1.2"/>
<text x="360.90" y="440.00" class="yl" textLength="5.30" lengthAdjust="spacingAndGlyphs">70</text>
<line x1="363.0" y1="424.90" x2="512.4" y2="424.90" stroke="#585858" stroke-width="1.2"/>
<text x="360.90" y="428.30" class="yl" textLength="5.30" lengthAdjust="spacingAndGlyphs">80</text>
<line x1="363.0" y1="413.20" x2="512.4" y2="413.20" stroke="#585858" stroke-width="1.2"/>
<text x="360.90" y="416.60" class="yl" textLength="5.30" lengthAdjust="spacingAndGlyphs">90</text>
<line x1="363.0" y1="401.50" x2="512.4" y2="401.50" stroke="#585858" stroke-width="1.2"/>
<text x="360.90" y="404.90" class="yl" textLength="7.95" lengthAdjust="spacingAndGlyphs">100</text>
<line x1="364.40" y1="518.50" x2="364.40" y2="520.50" stroke="#585858" stroke-width="1"/>
<line x1="413.53" y1="518.50" x2="413.53" y2="520.50" stroke="#585858" stroke-width="1"/>
<line x1="462.67" y1="518.50" x2="462.67" y2="520.50" stroke="#585858" stroke-width="1"/>
<line x1="511.80" y1="518.50" x2="511.80" y2="520.50" stroke="#585858" stroke-width="1"/>
<text x="388.97" y="532.00" class="xl" textLength="12.40" lengthAdjust="spacingAndGlyphs">PrRx</text>
<text x="438.10" y="532.00" class="xl" textLength="8.40" lengthAdjust="spacingAndGlyphs">144</text>
<text x="487.23" y="532.00" class="xl" textLength="8.40" lengthAdjust="spacingAndGlyphs">260</text>
<polyline points="388.97,401.50 438.10,411.44 487.23,401.50" fill="none" stroke="#000" stroke-width="1.4" stroke-linejoin="round"/>
<polyline points="388.97,403.84 438.10,426.89 487.23,412.62" fill="none" stroke="#000" stroke-width="1.4" stroke-linejoin="round"/>
<polyline points="388.97,406.18 438.10,454.50 487.23,418.47" fill="none" stroke="#000" stroke-width="1.4" stroke-linejoin="round"/>
<ellipse cx="388.97" cy="403.84" rx="2.6" ry="3.0" fill="#000"/>
<ellipse cx="438.10" cy="426.89" rx="2.6" ry="3.0" fill="#000"/>
<ellipse cx="487.23" cy="412.62" rx="2.6" ry="3.0" fill="#000"/>
<rect x="386.97" y="403.58" width="4.0" height="5.2" fill="#fff" stroke="#000" stroke-width="1.0"/>
<rect x="436.10" y="451.90" width="4.0" height="5.2" fill="#fff" stroke="#000" stroke-width="1.0"/>
<rect x="485.23" y="415.87" width="4.0" height="5.2" fill="#fff" stroke="#000" stroke-width="1.0"/>
<path d="M388.97,398.60 L390.92,403.70 L387.02,403.70 Z" fill="#fff" stroke="#000" stroke-width="1.0"/>
<path d="M438.10,408.55 L440.05,413.64 L436.15,413.64 Z" fill="#fff" stroke="#000" stroke-width="1.0"/>
<path d="M487.23,398.60 L489.18,403.70 L485.28,403.70 Z" fill="#fff" stroke="#000" stroke-width="1.0"/>
<rect x="3.5" y="550.3" width="167.50" height="174.50" rx="1" fill="none" stroke="#000" stroke-width="1.5"/>
<text transform="translate(12.40,569.4) scale(0.93,1)" class="t">Pt. 10</text>
<line x1="18.2" y1="701.50" x2="167.5" y2="701.50" stroke="#585858" stroke-width="1.2"/>
<text x="16.10" y="704.90" class="yl" textLength="2.65" lengthAdjust="spacingAndGlyphs">0</text>
<line x1="18.2" y1="689.79" x2="167.5" y2="689.79" stroke="#585858" stroke-width="1.2"/>
<text x="16.10" y="693.19" class="yl" textLength="5.30" lengthAdjust="spacingAndGlyphs">10</text>
<line x1="18.2" y1="678.08" x2="167.5" y2="678.08" stroke="#585858" stroke-width="1.2"/>
<text x="16.10" y="681.48" class="yl" textLength="5.30" lengthAdjust="spacingAndGlyphs">20</text>
<line x1="18.2" y1="666.37" x2="167.5" y2="666.37" stroke="#585858" stroke-width="1.2"/>
<text x="16.10" y="669.77" class="yl" textLength="5.30" lengthAdjust="spacingAndGlyphs">30</text>
<line x1="18.2" y1="654.66" x2="167.5" y2="654.66" stroke="#585858" stroke-width="1.2"/>
<text x="16.10" y="658.06" class="yl" textLength="5.30" lengthAdjust="spacingAndGlyphs">40</text>
<line x1="18.2" y1="642.95" x2="167.5" y2="642.95" stroke="#585858" stroke-width="1.2"/>
<text x="16.10" y="646.35" class="yl" textLength="5.30" lengthAdjust="spacingAndGlyphs">50</text>
<line x1="18.2" y1="631.24" x2="167.5" y2="631.24" stroke="#585858" stroke-width="1.2"/>
<text x="16.10" y="634.64" class="yl" textLength="5.30" lengthAdjust="spacingAndGlyphs">60</text>
<line x1="18.2" y1="619.53" x2="167.5" y2="619.53" stroke="#585858" stroke-width="1.2"/>
<text x="16.10" y="622.93" class="yl" textLength="5.30" lengthAdjust="spacingAndGlyphs">70</text>
<line x1="18.2" y1="607.82" x2="167.5" y2="607.82" stroke="#585858" stroke-width="1.2"/>
<text x="16.10" y="611.22" class="yl" textLength="5.30" lengthAdjust="spacingAndGlyphs">80</text>
<line x1="18.2" y1="596.11" x2="167.5" y2="596.11" stroke="#585858" stroke-width="1.2"/>
<text x="16.10" y="599.51" class="yl" textLength="5.30" lengthAdjust="spacingAndGlyphs">90</text>
<line x1="18.2" y1="584.40" x2="167.5" y2="584.40" stroke="#585858" stroke-width="1.2"/>
<text x="16.10" y="587.80" class="yl" textLength="7.95" lengthAdjust="spacingAndGlyphs">100</text>
<line x1="19.60" y1="701.50" x2="19.60" y2="703.50" stroke="#585858" stroke-width="1"/>
<line x1="68.70" y1="701.50" x2="68.70" y2="703.50" stroke="#585858" stroke-width="1"/>
<line x1="117.80" y1="701.50" x2="117.80" y2="703.50" stroke="#585858" stroke-width="1"/>
<line x1="166.90" y1="701.50" x2="166.90" y2="703.50" stroke="#585858" stroke-width="1"/>
<text x="44.15" y="715.00" class="xl" textLength="12.40" lengthAdjust="spacingAndGlyphs">PrRx</text>
<text x="93.25" y="715.00" class="xl" textLength="8.40" lengthAdjust="spacingAndGlyphs">140</text>
<text x="142.35" y="715.00" class="xl" textLength="8.40" lengthAdjust="spacingAndGlyphs">252</text>
<polyline points="44.15,589.08 93.25,598.45 142.35,584.40" fill="none" stroke="#000" stroke-width="1.4" stroke-linejoin="round"/>
<polyline points="44.15,627.73 93.25,623.63 142.35,594.94" fill="none" stroke="#000" stroke-width="1.4" stroke-linejoin="round"/>
<polyline points="44.15,642.95 93.25,663.68 142.35,620.12" fill="none" stroke="#000" stroke-width="1.4" stroke-linejoin="round"/>
<ellipse cx="44.15" cy="627.73" rx="2.6" ry="3.0" fill="#000"/>
<ellipse cx="93.25" cy="623.63" rx="2.6" ry="3.0" fill="#000"/>
<ellipse cx="142.35" cy="594.94" rx="2.6" ry="3.0" fill="#000"/>
<rect x="42.15" y="640.35" width="4.0" height="5.2" fill="#fff" stroke="#000" stroke-width="1.0"/>
<rect x="91.25" y="661.08" width="4.0" height="5.2" fill="#fff" stroke="#000" stroke-width="1.0"/>
<rect x="140.35" y="617.52" width="4.0" height="5.2" fill="#fff" stroke="#000" stroke-width="1.0"/>
<path d="M44.15,586.18 L46.10,591.28 L42.20,591.28 Z" fill="#fff" stroke="#000" stroke-width="1.0"/>
<path d="M93.25,595.55 L95.20,600.65 L91.30,600.65 Z" fill="#fff" stroke="#000" stroke-width="1.0"/>
<path d="M142.35,581.50 L144.30,586.60 L140.40,586.60 Z" fill="#fff" stroke="#000" stroke-width="1.0"/>
<rect x="175.8" y="550.3" width="342.40" height="174.50" rx="1" fill="none" stroke="#000" stroke-width="1.5"/>
<line x1="186.6" y1="573.0" x2="215.6" y2="573.0" stroke="#000" stroke-width="2.3"/>
<path d="M201.0,565.60 L207.0,578.50 L195.0,578.50 Z" fill="#fff" stroke="#000" stroke-width="1.7" stroke-linejoin="miter"/>
<text x="226.8" y="576.6" class="lg">Bone marrow, metaphase Q-cytogenetics</text>
<line x1="186.6" y1="631.7" x2="215.6" y2="631.7" stroke="#000" stroke-width="2.3"/>
<ellipse cx="199.9" cy="631.7" rx="6.35" ry="7.5" fill="#000"/>
<text x="226.8" y="636.1" class="lg">Bone marrow, interphase D-FISH</text>
<line x1="186.6" y1="692.5" x2="215.6" y2="692.5" stroke="#000" stroke-width="2.3"/>
<rect x="194.0" y="685.10" width="11.8" height="13.8" fill="#fff" stroke="#000" stroke-width="1.7"/>
<text x="226.8" y="696.1" class="lg">Blood, interphase D-FISH</text>
</svg>
</body></html>
